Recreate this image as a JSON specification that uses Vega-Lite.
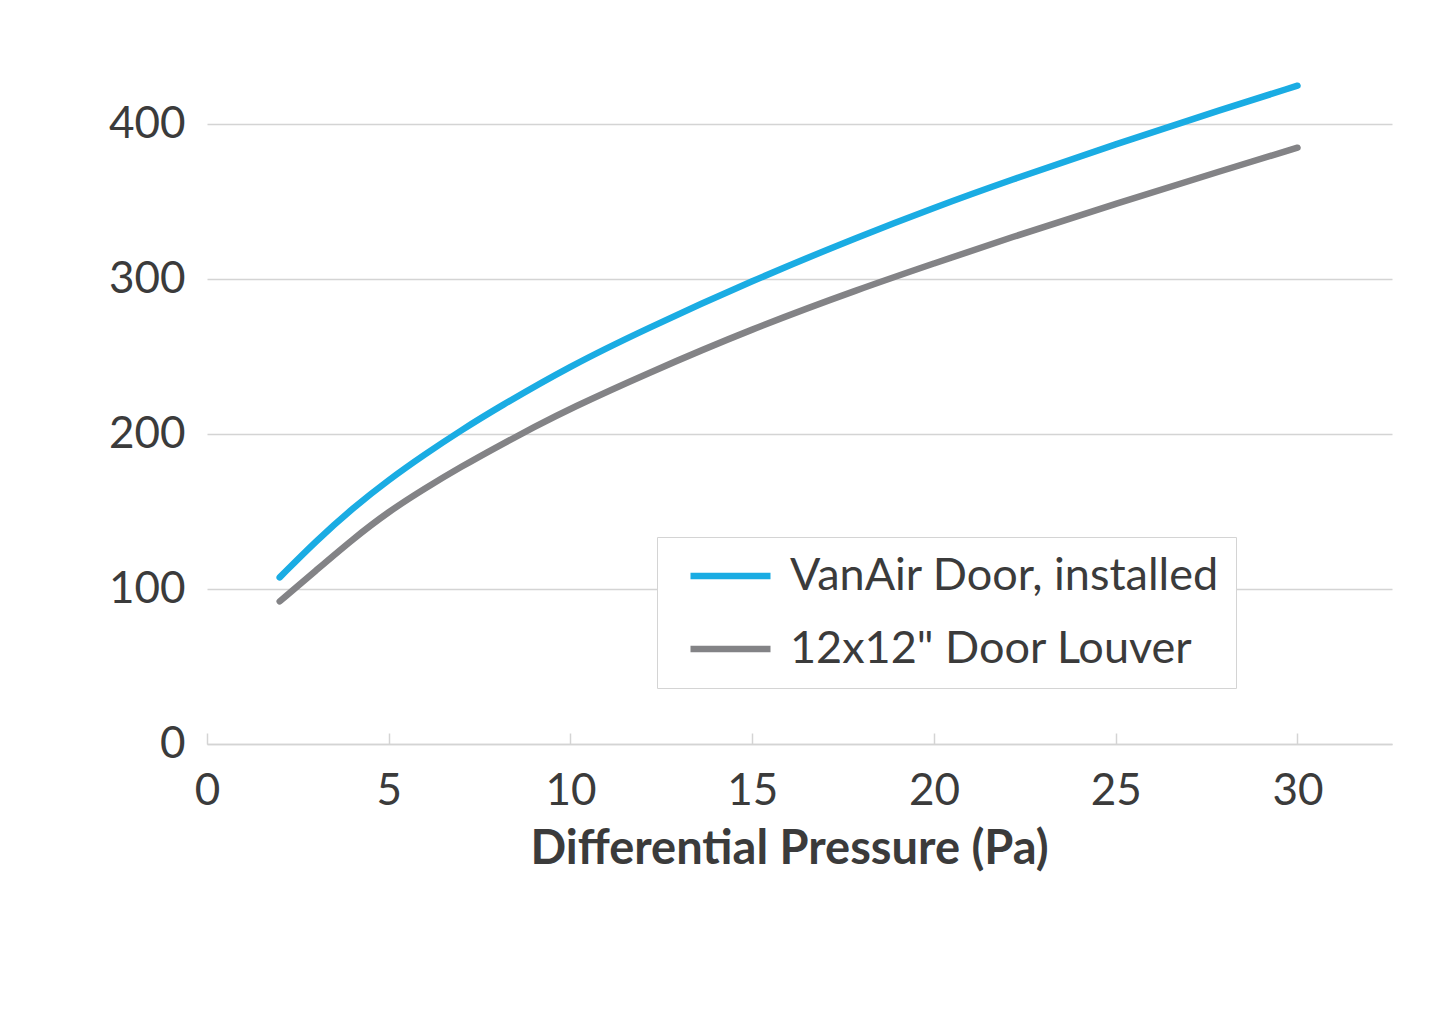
{
  "$schema": "https://vega.github.io/schema/vega-lite/v6.json",
  "width": 1185,
  "height": 682,
  "autosize": {"type": "none"},
  "padding": {"left": 207, "top": 62, "right": 40, "bottom": 268},
  "background": "white",
  "data": {
    "values": [
      {"series": "VanAir Door, installed", "dp": 2, "flow": 107.5},
      {"series": "VanAir Door, installed", "dp": 3, "flow": 131},
      {"series": "VanAir Door, installed", "dp": 4, "flow": 152},
      {"series": "VanAir Door, installed", "dp": 5, "flow": 170.5},
      {"series": "VanAir Door, installed", "dp": 6, "flow": 187},
      {"series": "VanAir Door, installed", "dp": 7, "flow": 202.5},
      {"series": "VanAir Door, installed", "dp": 8, "flow": 217},
      {"series": "VanAir Door, installed", "dp": 10, "flow": 244},
      {"series": "VanAir Door, installed", "dp": 12, "flow": 267},
      {"series": "VanAir Door, installed", "dp": 15, "flow": 299},
      {"series": "VanAir Door, installed", "dp": 18, "flow": 328},
      {"series": "VanAir Door, installed", "dp": 20, "flow": 346},
      {"series": "VanAir Door, installed", "dp": 22, "flow": 363},
      {"series": "VanAir Door, installed", "dp": 25, "flow": 387},
      {"series": "VanAir Door, installed", "dp": 28, "flow": 410},
      {"series": "VanAir Door, installed", "dp": 30, "flow": 424.7},
      {"series": "12x12\" Door Louver", "dp": 2, "flow": 92},
      {"series": "12x12\" Door Louver", "dp": 3, "flow": 112},
      {"series": "12x12\" Door Louver", "dp": 4, "flow": 132},
      {"series": "12x12\" Door Louver", "dp": 5, "flow": 150},
      {"series": "12x12\" Door Louver", "dp": 6, "flow": 165},
      {"series": "12x12\" Door Louver", "dp": 7, "flow": 179},
      {"series": "12x12\" Door Louver", "dp": 8, "flow": 192},
      {"series": "12x12\" Door Louver", "dp": 9, "flow": 204.5},
      {"series": "12x12\" Door Louver", "dp": 10, "flow": 216.5},
      {"series": "12x12\" Door Louver", "dp": 12, "flow": 238},
      {"series": "12x12\" Door Louver", "dp": 15, "flow": 268},
      {"series": "12x12\" Door Louver", "dp": 18, "flow": 294},
      {"series": "12x12\" Door Louver", "dp": 20, "flow": 310},
      {"series": "12x12\" Door Louver", "dp": 22, "flow": 326},
      {"series": "12x12\" Door Louver", "dp": 25, "flow": 348.5},
      {"series": "12x12\" Door Louver", "dp": 28, "flow": 370.5},
      {"series": "12x12\" Door Louver", "dp": 30, "flow": 384.7}
    ]
  },
  "mark": {"type": "line", "interpolate": "basis", "strokeWidth": 6.5, "strokeCap": "round"},
  "encoding": {
    "x": {
      "field": "dp",
      "type": "quantitative",
      "scale": {"domain": [0, 32.6], "nice": false, "zero": true},
      "axis": {
        "title": "Differential Pressure (Pa)",
        "values": [0, 5, 10, 15, 20, 25, 30],
        "grid": false,
        "tickSize": -11,
        "labelPadding": 36,
        "labelFlush": false,
        "titleX": 582,
        "titleAlign": "center"
      }
    },
    "y": {
      "field": "flow",
      "type": "quantitative",
      "scale": {"domain": [0, 440], "nice": false},
      "axis": {
        "title": null,
        "values": [0, 100, 200, 300, 400],
        "domain": false,
        "ticks": false,
        "labelPadding": 22
      }
    },
    "color": {
      "field": "series",
      "type": "nominal",
      "sort": ["VanAir Door, installed", "12x12\" Door Louver"],
      "scale": {"domain": ["VanAir Door, installed", "12x12\" Door Louver"], "range": ["#1AACE3", "#838386"]},
      "legend": {
        "title": null,
        "orient": "none",
        "legendX": 450,
        "legendY": 475,
        "symbolType": "stroke",
        "symbolSize": 6400,
        "symbolStrokeWidth": 6.5,
        "symbolOffset": 14,
        "clipHeight": 46,
        "labelOffset": 16,
        "rowPadding": 27,
        "padding": 16,
        "strokeColor": "#d4d4d4",
        "fillColor": "white"
      }
    }
  },
  "config": {
    "view": {"stroke": null},
    "font": "Lato",
    "axis": {
      "labelFont": "Lato",
      "labelFontSize": 44,
      "labelColor": "#3b3b3b",
      "titleFont": "Lato",
      "titleFontSize": 47,
      "titleFontWeight": "bold",
      "titleColor": "#3b3b3b",
      "titlePadding": 13,
      "domainColor": "#d4d4d4",
      "domainWidth": 1.5,
      "tickColor": "#d4d4d4",
      "tickWidth": 1.5,
      "gridColor": "#d4d4d4",
      "gridWidth": 1.5
    },
    "legend": {
      "labelFont": "Lato",
      "labelFontSize": 45,
      "labelColor": "#3b3b3b",
      "labelLimit": 0
    }
  }
}
